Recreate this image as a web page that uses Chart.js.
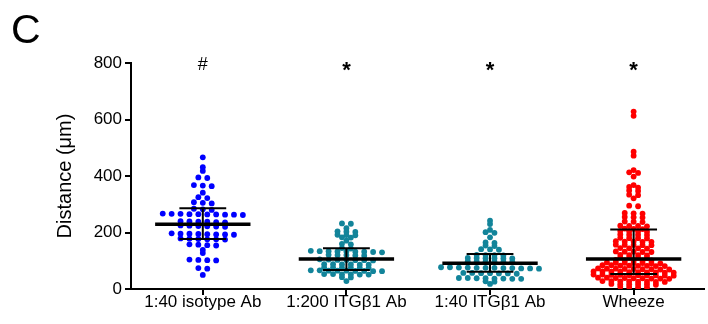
<!DOCTYPE html>
<html>
<head>
<meta charset="utf-8">
<script src="https://cdn.jsdelivr.net/npm/chart.js@4.4.0/dist/chart.umd.min.js"></script>
<style>
  html, body { margin: 0; padding: 0; background: #fff; }
</style>
</head>
<body>
<canvas id="distChart" width="708" height="324"></canvas>
<script>
const groups = ['1:40 isotype Ab', '1:200 ITGβ1 Ab', '1:40 ITGβ1 Ab', 'Wheeze'];

// distances (µm), roughly row by row
const isotype = [466, 431, 418, 395, 393, 368, 366, 364, 341, 325, 322, 307, 305, 303,
  284, 282, 280, 267, 266, 266, 265, 265, 264, 264, 263, 263, 262,
  240, 239, 238, 238, 237, 236, 225, 224, 223, 222, 221, 220,
  197, 196, 196, 195, 194, 193, 193, 192, 179, 178, 177, 176, 176, 175,
  158, 157, 155, 154, 138, 127, 104, 103, 102, 101, 74, 72, 50];
const itg200 = [232, 231, 215, 204, 203, 202, 192, 191, 190, 183, 182, 171, 160, 158, 145, 143,
  135, 134, 134, 133, 133, 132, 132, 131, 130, 121, 120, 120, 119, 118,
  105, 104, 103, 103, 102, 102, 101, 88, 88, 87, 87, 86, 86, 76, 76, 75, 75, 74, 74,
  66, 66, 65, 65, 65, 64, 64, 63, 63, 53, 53, 52, 52, 51, 51, 42, 41, 28];
const itg40 = [242, 230, 209, 201, 199, 183, 165, 163, 154, 152, 141, 140, 139,
  121, 120, 120, 119, 110, 110, 109, 109, 108, 108, 98, 98, 97, 97, 96, 96,
  77, 77, 76, 76, 75, 75, 75, 74, 74, 73, 73, 72, 57, 57, 56, 56, 55, 55, 54,
  39, 39, 38, 38, 37, 37, 36, 36, 27, 26, 18];
const wheeze = [628, 613, 486, 472, 421, 413, 411, 398, 368, 361, 359, 349, 347, 334, 332, 321,
  295, 293, 269, 268, 267, 255, 254, 253, 239, 238, 237, 224, 223, 223, 222, 214, 213, 212,
  205, 204, 204, 203, 193, 192, 192, 191, 181, 180, 180, 179, 169, 168, 168, 167, 167,
  157, 156, 156, 155, 155, 145, 144, 144, 143, 133, 132, 132, 131, 131, 121, 120, 120, 119,
  111, 110, 110, 109, 103, 102, 102, 101, 101, 94, 93, 93, 92, 92, 91, 91,
  84, 84, 83, 83, 82, 82, 81, 81, 73, 72, 72, 71, 71, 70, 70, 69, 69,
  62, 62, 61, 61, 60, 60, 59, 59, 58, 58, 51, 51, 50, 50, 49, 49, 48, 48, 47, 47,
  40, 40, 39, 39, 38, 38, 37, 37, 36, 28, 28, 27, 27, 26, 26, 25, 25,
  18, 17, 17, 16, 16, 15, 8, 7, 6, 6];

const medians = [229, 106, 91, 106];
const q1 = [177, 67, 61, 53];
const q3 = [286, 144, 124, 211];
const marks = ['#', '*', '*', '*'];
const yTicks = [0, 200, 400, 600, 800];

const colors = ['#0000FF', '#12849A', '#12849A', '#FF0000'];
const FONT = '"Liberation Sans", Arial, sans-serif';
const DOT_GAP = 0.062;   // horizontal step between dots of one row (category units)

// simple GraphPad-like scatter: close values share a row, spread side by side
function swarm(values, center) {
  const sorted = values.slice().sort((a, b) => b - a);
  const rows = [];
  sorted.forEach(v => {
    const row = rows[rows.length - 1];
    if (row && row[0] - v <= 6) row.push(v);
    else rows.push([v]);
  });
  const pts = [];
  rows.forEach(row => {
    row.forEach((v, i) => pts.push({ x: center + (i - (row.length - 1) / 2) * DOT_GAP, y: v }));
  });
  return pts;
}

function seg(x0, x1, y0, y1, w) {
  return {
    type: 'line',
    data: [{ x: x0, y: y0 }, { x: x1, y: y1 }],
    borderColor: '#000',
    borderWidth: w,
    pointRadius: 0,
    borderCapStyle: 'butt',
    order: 0
  };
}

const datasets = [];
groups.forEach((g, i) => {
  const c = i + 1;
  datasets.push(seg(c - 0.332, c + 0.332, medians[i], medians[i], 3.5));
  datasets.push(seg(c - 0.163, c + 0.163, q1[i], q1[i], 2));
  datasets.push(seg(c - 0.163, c + 0.163, q3[i], q3[i], 2));
  datasets.push(seg(c, c, q1[i], q3[i], 2));
});
[isotype, itg200, itg40, wheeze].forEach((vals, i) => {
  datasets.push({
    type: 'scatter',
    data: swarm(vals, i + 1),
    backgroundColor: colors[i],
    borderWidth: 0,
    pointRadius: 2.9,
    order: 1
  });
});

const annotate = {
  id: 'annotate',
  afterDraw(chart) {
    const { ctx, scales: { x, y } } = chart;
    const top = y.getPixelForValue(800);
    ctx.save();
    ctx.fillStyle = '#000';
    ctx.textAlign = 'center';
    ctx.textBaseline = 'alphabetic';
    marks.forEach((m, i) => {
      const px = x.getPixelForValue(i + 1);
      if (m === '#') {
        ctx.font = '18px ' + FONT;
        ctx.fillText(m, px, top + 7);
      } else {
        ctx.font = 'bold 22px ' + FONT;
        ctx.fillText(m, px, top + 14);
      }
    });
    ctx.textAlign = 'left';
    ctx.font = '41px ' + FONT;
    ctx.fillText('C', 11, 43);
    ctx.restore();
  }
};

new Chart(document.getElementById('distChart'), {
  type: 'scatter',
  data: { datasets },
  plugins: [annotate],
  options: {
    responsive: false,
    animation: false,
    layout: { padding: { top: 63, left: 53, right: 0, bottom: 0 } },
    plugins: { legend: { display: false }, tooltip: { enabled: false } },
    scales: {
      x: {
        type: 'linear',
        min: 0.5,
        max: 4.49,
        afterBuildTicks: s => { s.ticks = groups.map((g, i) => ({ value: i + 1 })); },
        afterFit: s => { s.height = 35; },
        ticks: {
          color: '#000',
          font: { family: FONT, size: 17 },
          padding: -3,
          maxRotation: 0,
          callback: v => groups[v - 1]
        },
        grid: { drawOnChartArea: false, color: '#000', lineWidth: 2, tickLength: 6 },
        border: { color: '#000', width: 2 }
      },
      y: {
        min: 0,
        max: 800,
        afterBuildTicks: s => { s.ticks = yTicks.map(v => ({ value: v })); },
        afterFit: s => { s.width = 78; },
        ticks: { color: '#000', font: { family: FONT, size: 17 }, padding: 3 },
        grid: { drawOnChartArea: false, color: '#000', lineWidth: 2, tickLength: 6 },
        border: { color: '#000', width: 2 },
        title: {
          display: true,
          text: 'Distance (μm)',
          color: '#000',
          font: { family: FONT, size: 20 },
          padding: 0
        }
      }
    }
  }
});
</script>
</body>
</html>
